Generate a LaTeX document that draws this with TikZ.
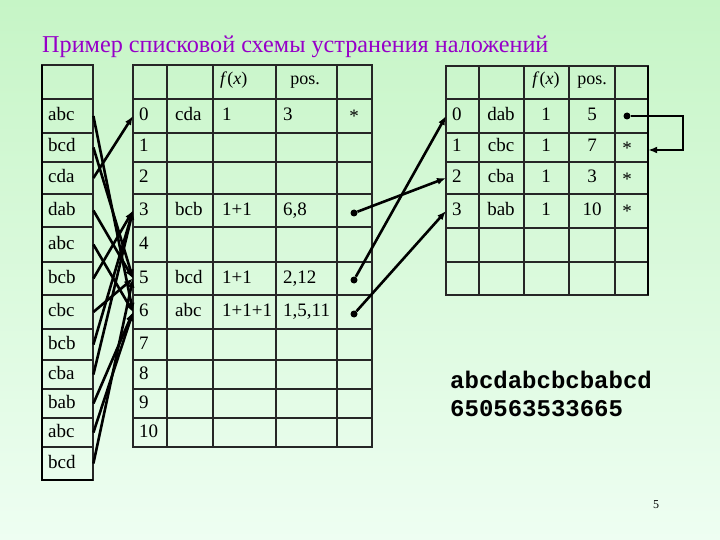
\documentclass[tikz,border=0pt]{standalone}
\usepackage{fontspec}
\setmainfont{Liberation Serif}
\setmonofont{Liberation Mono}
\usetikzlibrary{positioning, calc}
\usetikzlibrary{shapes,arrows.meta}
\definecolor{slidetop}{RGB}{198,245,198}
\definecolor{slidebot}{RGB}{238,254,242}
\definecolor{titlepurple}{RGB}{150,0,200}
\tikzstyle{grid} = [draw=black!85, line width=1.1pt]
\tikzstyle{frame} = [draw=black, line width=2.4pt]
\tikzstyle{word} = [anchor=west, text width=39pt, inner xsep=6pt, inner ysep=0pt,
    align=left, text height=13pt, text depth=4pt, font=\fontsize{19}{20}\selectfont]
\tikzstyle{idx} = [word, text width=22pt]
\tikzstyle{cell} = [font=\fontsize{19}{20}\selectfont, inner sep=0pt,
    text height=13pt, text depth=4pt]
\tikzstyle{head} = [font=\fontsize{18}{20}\selectfont, inner sep=0pt,
    text height=12pt, text depth=4pt]
\tikzstyle{dot} = [circle, fill=black, inner sep=0pt, minimum size=7pt]
\tikzstyle{link} = [draw=black, line width=2.6pt, -{Latex[length=9pt,width=7pt]}]

\begin{document}
\begin{tikzpicture}[x=1pt, y=-1pt]
   % Slide
    \useasboundingbox (0,0) rectangle (720,540);
    \fill[top color=slidetop, bottom color=slidebot] (0,0) rectangle (720,540);
    \node[anchor=base west, text=titlepurple, inner sep=0pt,
      font=\fontsize{24.2}{26}\selectfont] (title) at (42,53)
      {Пример списковой схемы устранения наложений};
   % Tables
    \foreach \y in {99,133,162,194,227,262,295,329,360,389,418,447}
      \draw[grid] (42,\y) -- (93,\y);
    \draw[grid] (42,65) rectangle (93,480);
    \draw[frame] (42,65) -- (42,480) -- (93,480);
    \foreach \y in {99,133,162,194,227,262,295,329,360,389,418}
      \draw[grid] (133,\y) -- (372,\y);
    \foreach \x in {167,213,276,337}
      \draw[grid] (\x,65) -- (\x,447);
    \draw[grid] (133,65) rectangle (372,447);
    \foreach \y in {99,133,162,194,228,262}
      \draw[grid] (446,\y) -- (648,\y);
    \foreach \x in {479,524,569,615}
      \draw[grid] (\x,66) -- (\x,295);
    \draw[grid] (446,66) rectangle (648,295);
    \draw[frame] (648,66) -- (648,295);
   % Place nodes
    \foreach \n/\y/\t in {1/116/abc, 2/147.5/bcd, 3/178/cda, 4/210.5/dab,
      5/244.5/abc, 6/278.5/bcb, 7/312/cbc, 8/344.5/bcb, 9/374.5/cba,
      10/403.5/bab, 11/432.5/abc, 12/463.5/bcd}
      \node[word] (w\n) at (42,\y) {\t};
    \foreach \n/\y in {0/116, 1/147.5, 2/178, 3/210.5, 4/244.5, 5/278.5,
      6/312, 7/344.5, 8/374.5, 9/403.5, 10/432.5}
      \node[idx] (m\n) at (133,\y) {\n};
    \node[head, anchor=west] (mf) at (220,81) {\textit{f}(\textit{x})};
    \node[head] (mp) at (305,81) {pos.};
    \node[cell, anchor=west] (mk0) at (175,116) {cda};
    \node[cell, anchor=west] (mc0) at (222,116) {1};
    \node[cell, anchor=west] (mq0) at (283,116) {3};
    \node[cell] (ms0) at (354,118) {*};
    \node[cell, anchor=west] (mk3) at (175,210.5) {bcb};
    \node[cell, anchor=west] (mc3) at (222,210.5) {1+1};
    \node[cell, anchor=west] (mq3) at (283,210.5) {6,8};
    \node[dot] (d3) at (354,213) {};
    \node[cell, anchor=west] (mk5) at (175,278.5) {bcd};
    \node[cell, anchor=west] (mc5) at (222,278.5) {1+1};
    \node[cell, anchor=west] (mq5) at (283,278.5) {2,12};
    \node[dot] (d5) at (354,280) {};
    \node[cell, anchor=west] (mk6) at (175,312) {abc};
    \node[cell, anchor=west] (mc6) at (222,312) {1+1+1};
    \node[cell, anchor=west] (mq6) at (283,312) {1,5,11};
    \node[dot] (d6) at (354,314) {};
    \node[head] (rf) at (546,81) {\textit{f}(\textit{x})};
    \node[head] (rp) at (592,81) {pos.};
    \foreach \n/\y/\t/\p in {0/116/dab/5, 1/147.5/cbc/7, 2/178/cba/3, 3/211/bab/10} {
      \node[idx] (r\n) at (446,\y) {\n};
      \node[cell] (rk\n) at (501,\y) {\t};
      \node[cell] (rc\n) at (546,\y) {1};
      \node[cell] (rq\n) at (592,\y) {\p};
    }
    \node[dot] (dr0) at (627,116) {};
    \node[cell, minimum width=42pt] (s1) at (627,150) {*};
    \node[cell] (s2) at (627,181) {*};
    \node[cell] (s3) at (627,213) {*};
    \coordinate (bend) at (683,116);
    \node[anchor=west, inner sep=0pt, font=\ttfamily\bfseries\fontsize{24}{26}\selectfont]
      (seq) at (450,380) {abcdabcbcbabcd};
    \node[anchor=west, inner sep=0pt, font=\ttfamily\bfseries\fontsize{24}{26}\selectfont]
      (codes) at (450,409) {650563533665};
    \node[font=\fontsize{12}{14}\selectfont] (pg) at (656,505) {5};
   % Draw edges
    \foreach \a/\b in {1/6, 2/5, 3/0, 4/5, 5/6, 6/3, 7/5, 8/3, 9/3, 10/6, 11/6, 12/5}
      \path[link] (w\a.east) -- (m\b.west);
    \path[link] (d3) -- (r2.west);
    \path[link] (d5) -- (r0.west);
    \path[link] (d6) -- (r3.west);
    \path[link] (dr0) -- (bend) |- (s1.east);
\end{tikzpicture}
\end{document}
